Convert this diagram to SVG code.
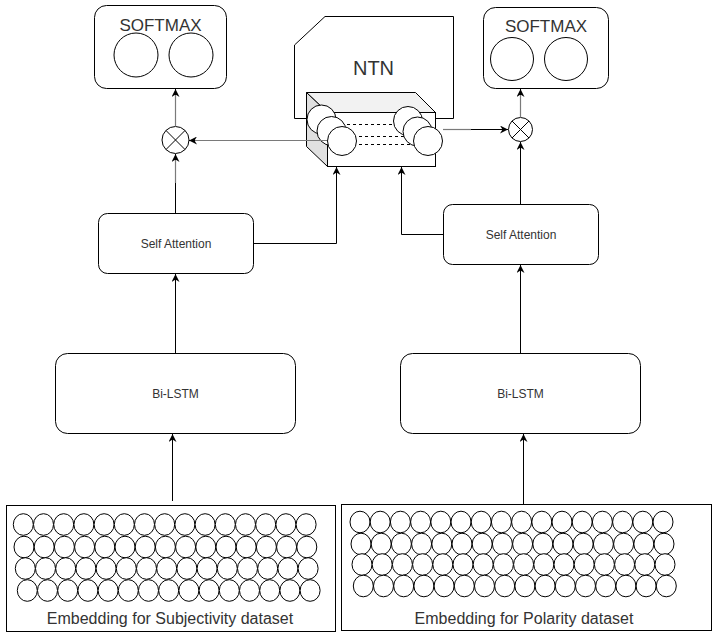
<svg xmlns="http://www.w3.org/2000/svg" xmlns:xlink="http://www.w3.org/1999/xlink" width="715" height="638" viewBox="0 0 715 638">
<style>
.box{fill:#fff;stroke:#000;stroke-width:1}
.lbl{font-family:"Liberation Sans",Arial,sans-serif;fill:#333;text-anchor:middle}
.s12{font-size:12px}
.s16{font-size:16px}
.s17{font-size:17px}
.s20{font-size:20px}
.ln{fill:none;stroke:#000;stroke-width:1}
.gr{fill:none;stroke:#7a7a7a;stroke-width:1.2}
.c{fill:#fff;stroke:#000;stroke-width:1}
.dash{fill:none;stroke:#000;stroke-width:1;stroke-dasharray:3 3}
</style>
<defs>
<marker id="ar" markerWidth="8" markerHeight="8" refX="8" refY="4" orient="auto" markerUnits="userSpaceOnUse">
<path d="M0,0 L8,4 L0,8 L2.5,4 Z" fill="#000"/>
</marker>
<g id="row15" class="c">
<ellipse cx="0" cy="0" rx="10" ry="10.8"/><ellipse cx="20.2" cy="0" rx="10" ry="10.8"/><ellipse cx="40.4" cy="0" rx="10" ry="10.8"/><ellipse cx="60.6" cy="0" rx="10" ry="10.8"/><ellipse cx="80.8" cy="0" rx="10" ry="10.8"/><ellipse cx="101" cy="0" rx="10" ry="10.8"/><ellipse cx="121.2" cy="0" rx="10" ry="10.8"/><ellipse cx="141.4" cy="0" rx="10" ry="10.8"/><ellipse cx="161.6" cy="0" rx="10" ry="10.8"/><ellipse cx="181.8" cy="0" rx="10" ry="10.8"/><ellipse cx="202" cy="0" rx="10" ry="10.8"/><ellipse cx="222.2" cy="0" rx="10" ry="10.8"/><ellipse cx="242.4" cy="0" rx="10" ry="10.8"/><ellipse cx="262.6" cy="0" rx="10" ry="10.8"/><ellipse cx="282.8" cy="0" rx="10" ry="10.8"/>
</g>
<g id="row16">
<use href="#row15" xlink:href="#row15"/>
<ellipse class="c" cx="303" cy="0" rx="10" ry="10.8"/>
</g>
</defs>
<rect width="715" height="638" fill="#fff"/>

<!-- Embedding Subjectivity -->
<g id="emb-subj">
<rect class="box" x="6.5" y="505.5" width="329" height="126"/>
<use href="#row15" xlink:href="#row15" x="23.3" y="524.5"/>
<use href="#row15" xlink:href="#row15" x="24" y="547"/>
<use href="#row15" xlink:href="#row15" x="25.3" y="568.5"/>
<use href="#row15" xlink:href="#row15" x="27.3" y="590.5"/>
<text class="lbl s16" x="170" y="624">Embedding for Subjectivity dataset</text>
</g>

<!-- Embedding Polarity -->
<g id="emb-pol">
<rect class="box" x="341.5" y="504.5" width="370" height="126"/>
<use href="#row16" xlink:href="#row16" x="360" y="522"/>
<use href="#row16" xlink:href="#row16" x="361" y="544"/>
<use href="#row16" xlink:href="#row16" x="362" y="564.5"/>
<use href="#row16" xlink:href="#row16" x="363.3" y="586"/>
<text class="lbl s16" x="524" y="624">Embedding for Polarity dataset</text>
</g>

<!-- Bi-LSTM boxes -->
<g id="bilstm-left">
<rect class="box" x="55.5" y="353.5" width="240" height="80" rx="12"/>
<text class="lbl s12" x="175.5" y="397.5">Bi-LSTM</text>
</g>
<g id="bilstm-right">
<rect class="box" x="400.5" y="353.5" width="240" height="80" rx="12"/>
<text class="lbl s12" x="520.5" y="397.5">Bi-LSTM</text>
</g>

<!-- Self Attention -->
<g id="sa-left">
<rect class="box" x="98.5" y="213.5" width="155" height="60" rx="9"/>
<text class="lbl s12" x="176" y="247.5">Self Attention</text>
</g>
<g id="sa-right">
<rect class="box" x="443.5" y="204.5" width="155" height="60" rx="9"/>
<text class="lbl s12" x="521" y="238.5">Self Attention</text>
</g>

<!-- Softmax -->
<g id="softmax-left">
<rect class="box" x="94.5" y="5.5" width="132" height="83" rx="12"/>
<text class="lbl s17" x="160.5" y="31">SOFTMAX</text>
<circle class="c" cx="136" cy="55" r="22"/>
<circle class="c" cx="191" cy="55" r="22"/>
</g>
<g id="softmax-right">
<rect class="box" x="483.5" y="7.5" width="125" height="81" rx="12"/>
<text class="lbl s17" x="546" y="32">SOFTMAX</text>
<circle class="c" cx="512" cy="59" r="21.5"/>
<circle class="c" cx="566" cy="59" r="21.5"/>
</g>

<!-- Multiply nodes -->
<g id="mul-left">
<circle class="c" cx="175.5" cy="140" r="13.5"/>
<path class="ln" d="M166,130.5 L185,149.5 M185,130.5 L166,149.5"/>
</g>
<g id="mul-right">
<circle class="c" cx="520.5" cy="129.5" r="12"/>
<path class="ln" d="M512,121 L529,138 M529,121 L512,138"/>
</g>

<!-- NTN -->
<g id="ntn">
<path class="box" d="M294.5,45 L325,16.5 L453.5,16.5 L453.5,118.5 L294.5,118.5 Z"/>
<text class="lbl s20" x="373.5" y="75">NTN</text>
<path d="M306.5,92.5 L415.5,92.5 L435.5,112.5 L327.5,112.5 Z" fill="#f2f2f2" stroke="#000"/>
<path d="M306.5,92.5 L327.5,112.5 L327.5,166.5 L306.5,146.5 Z" fill="#e0e0e0" stroke="#000"/>
<rect x="327.5" y="112.5" width="108" height="54" fill="#fff" stroke="#000"/>
<line class="dash" x1="335" y1="124.5" x2="410" y2="124.5"/>
<line class="dash" x1="335" y1="136.5" x2="415" y2="136.5"/>
<line class="dash" x1="335" y1="144.5" x2="420" y2="144.5"/>
<circle class="c" cx="321.5" cy="119.5" r="14.5"/>
<circle class="c" cx="331.5" cy="131" r="14.5"/>
<circle class="c" cx="342" cy="141" r="14.5"/>
<circle class="c" cx="408" cy="121" r="14.5"/>
<circle class="c" cx="417.5" cy="131.5" r="14.5"/>
<circle class="c" cx="428" cy="141" r="14.5"/>
</g>

<!-- Connectors -->
<g id="connectors">
<line class="ln" x1="172.5" y1="501" x2="172.5" y2="434" marker-end="url(#ar)"/>
<line class="ln" x1="523.5" y1="504" x2="523.5" y2="434" marker-end="url(#ar)"/>
<line class="ln" x1="175.5" y1="353" x2="175.5" y2="274" marker-end="url(#ar)"/>
<line class="ln" x1="520.5" y1="353" x2="520.5" y2="265" marker-end="url(#ar)"/>
<line class="ln" x1="175.5" y1="213" x2="175.5" y2="183"/>
<line class="gr" x1="175.5" y1="183" x2="175.5" y2="160"/>
<line class="ln" x1="175.5" y1="160" x2="175.5" y2="154" marker-end="url(#ar)"/>
<polyline class="ln" points="253.5,243.5 336.5,243.5 336.5,167" marker-end="url(#ar)"/>
<polyline class="ln" points="443.5,234.5 401.5,234.5 401.5,167" marker-end="url(#ar)"/>
<line class="ln" x1="520.5" y1="204" x2="520.5" y2="142" marker-end="url(#ar)"/>
<line class="gr" x1="327" y1="140.5" x2="195" y2="140.5"/>
<line class="ln" x1="195" y1="140.5" x2="189" y2="140.5" marker-end="url(#ar)"/>
<line class="gr" x1="443" y1="129.5" x2="471" y2="129.5"/>
<line class="ln" x1="471" y1="129.5" x2="508" y2="129.5" marker-end="url(#ar)"/>
<line class="gr" x1="175.5" y1="126.5" x2="175.5" y2="95"/>
<line class="ln" x1="175.5" y1="95" x2="175.5" y2="89" marker-end="url(#ar)"/>
<line class="gr" x1="520.5" y1="117.5" x2="520.5" y2="95"/>
<line class="ln" x1="520.5" y1="95" x2="520.5" y2="89" marker-end="url(#ar)"/>
</g>
</svg>
